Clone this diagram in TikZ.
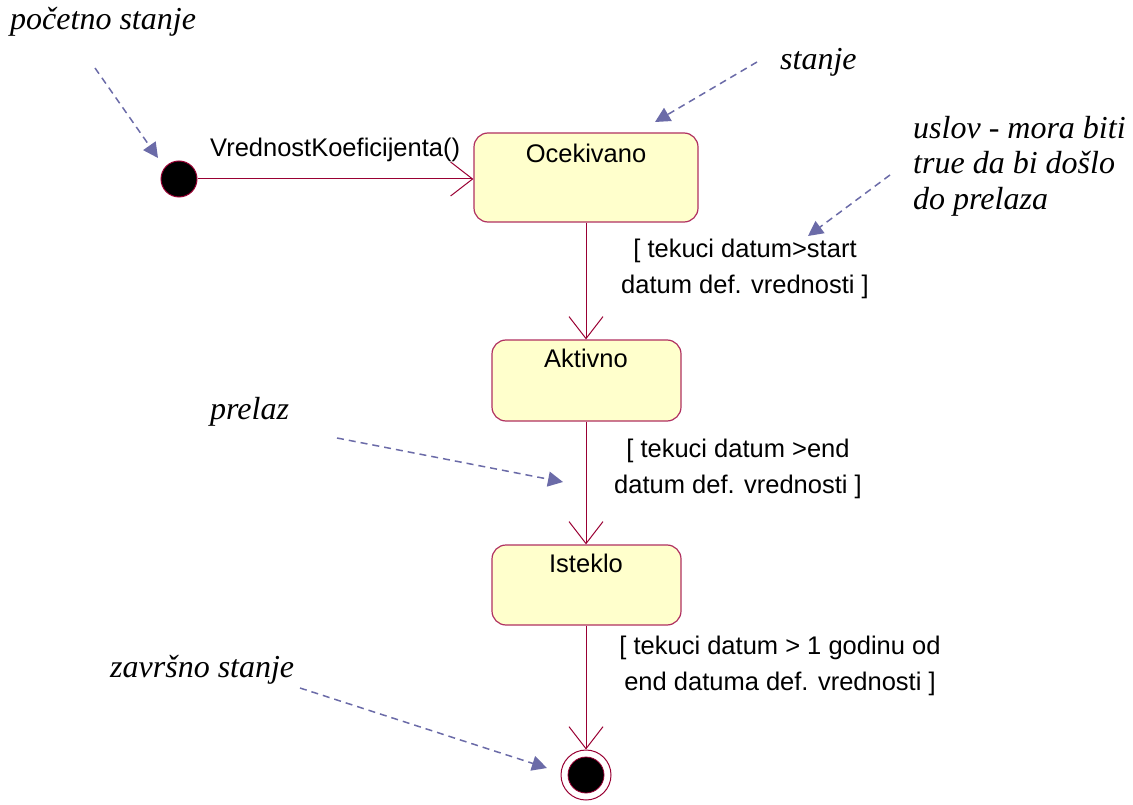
\documentclass[tikz,border=0pt]{standalone}
\usepackage{fontspec}
\setmainfont{Liberation Serif}
\setsansfont{Liberation Sans}
\usetikzlibrary{arrows.meta}
\definecolor{umlline}{HTML}{990033}
\definecolor{umlborder}{HTML}{B03060}
\definecolor{umlfill}{HTML}{FFFFCC}
\definecolor{notecol}{HTML}{6B6BA8}
\tikzset{
  statebox/.style={draw=umlborder, fill=umlfill, rounded corners=14pt, line width=1.2pt},
  trans/.style={draw=umlline, line width=1pt, -{Straight Barb[length=22pt,width=34pt,line width=1pt]}},
  note/.style={draw=notecol, line width=1.5pt, dash pattern=on 7pt off 5pt, -{Triangle[length=15pt,width=15pt]}},
  lbl/.style={font=\sffamily\fontsize{25.5}{36.5}\selectfont, inner sep=0pt},
  ann/.style={font=\itshape\fontsize{32}{35.5}\selectfont, inner sep=0pt},
}
\begin{document}
\begin{tikzpicture}[x=1pt,y=-1pt]
\useasboundingbox (0,0) rectangle (1133,805);
% states
\node[statebox, minimum width=224pt, minimum height=89pt] (oc) at (586,177.5) {};
\node[statebox, minimum width=189pt, minimum height=81pt] (ak) at (586.5,380.5) {};
\node[statebox, minimum width=189pt, minimum height=80pt] (is) at (586.5,585) {};
\node[lbl] at (586,153) {Ocekivano};
\node[lbl] at (586,358) {Aktivno};
\node[lbl] at (586,563) {Isteklo};
% initial / final
\node[circle, fill=black, draw=umlline, line width=1pt, minimum size=36pt, inner sep=0pt] (init) at (179,179) {};
\node[circle, draw=umlline, fill=white, line width=1pt, minimum size=50pt, inner sep=0pt] (fin) at (586,775) {};
\node[circle, fill=black, draw=umlline, line width=0.8pt, minimum size=36pt, inner sep=0pt] at (586,775) {};
% transitions
\draw[trans] (init) -- (oc.west |- init);
\draw[trans] (oc.south -| 586,0) -- (ak.north -| 586,0);
\draw[trans] (ak.south -| 586,0) -- (is.north -| 586,0);
\draw[trans] (is.south -| 586,0) -- (fin.north);
% transition labels
\node[lbl, anchor=west] (t1) at (210,150) {VrednostKoeficijenta()};
\node[lbl, align=center] (g1) at (745,269) {[ tekuci datum>start\\datum def. vrednosti ]};
\node[lbl, align=center] (g2) at (738,469) {[ tekuci datum >end\\datum def. vrednosti ]};
\node[lbl, align=center] (g3) at (780,666) {[ tekuci datum > 1 godinu od\\end datuma def. vrednosti ]};
% annotations
\node[ann, anchor=west] (a1) at (10,22) {početno stanje};
\node[ann, anchor=west] (a2) at (780,62) {stanje};
\node[ann, anchor=west, align=left] (a3) at (913,166) {uslov - mora biti\\true da bi došlo\\do prelaza};
\node[ann, anchor=west] (a4) at (210,412) {prelaz};
\node[ann, anchor=west] (a5) at (110,670) {završno stanje};
% annotation arrows
\coordinate (s1) at (95,68); \coordinate (e1) at (158,158);
\coordinate (s2) at (757,62); \coordinate (e2) at (655,122);
\coordinate (s3) at (890,175); \coordinate (e3) at (808,236);
\coordinate (s4) at (337,438); \coordinate (e4) at (563,482);
\coordinate (s5) at (300,688); \coordinate (e5) at (547,768);
\draw[note] (s1) -- (e1);
\draw[note] (s2) -- (e2);
\draw[note] (s3) -- (e3);
\draw[note] (s4) -- (e4);
\draw[note] (s5) -- (e5);
\end{tikzpicture}
\end{document}
